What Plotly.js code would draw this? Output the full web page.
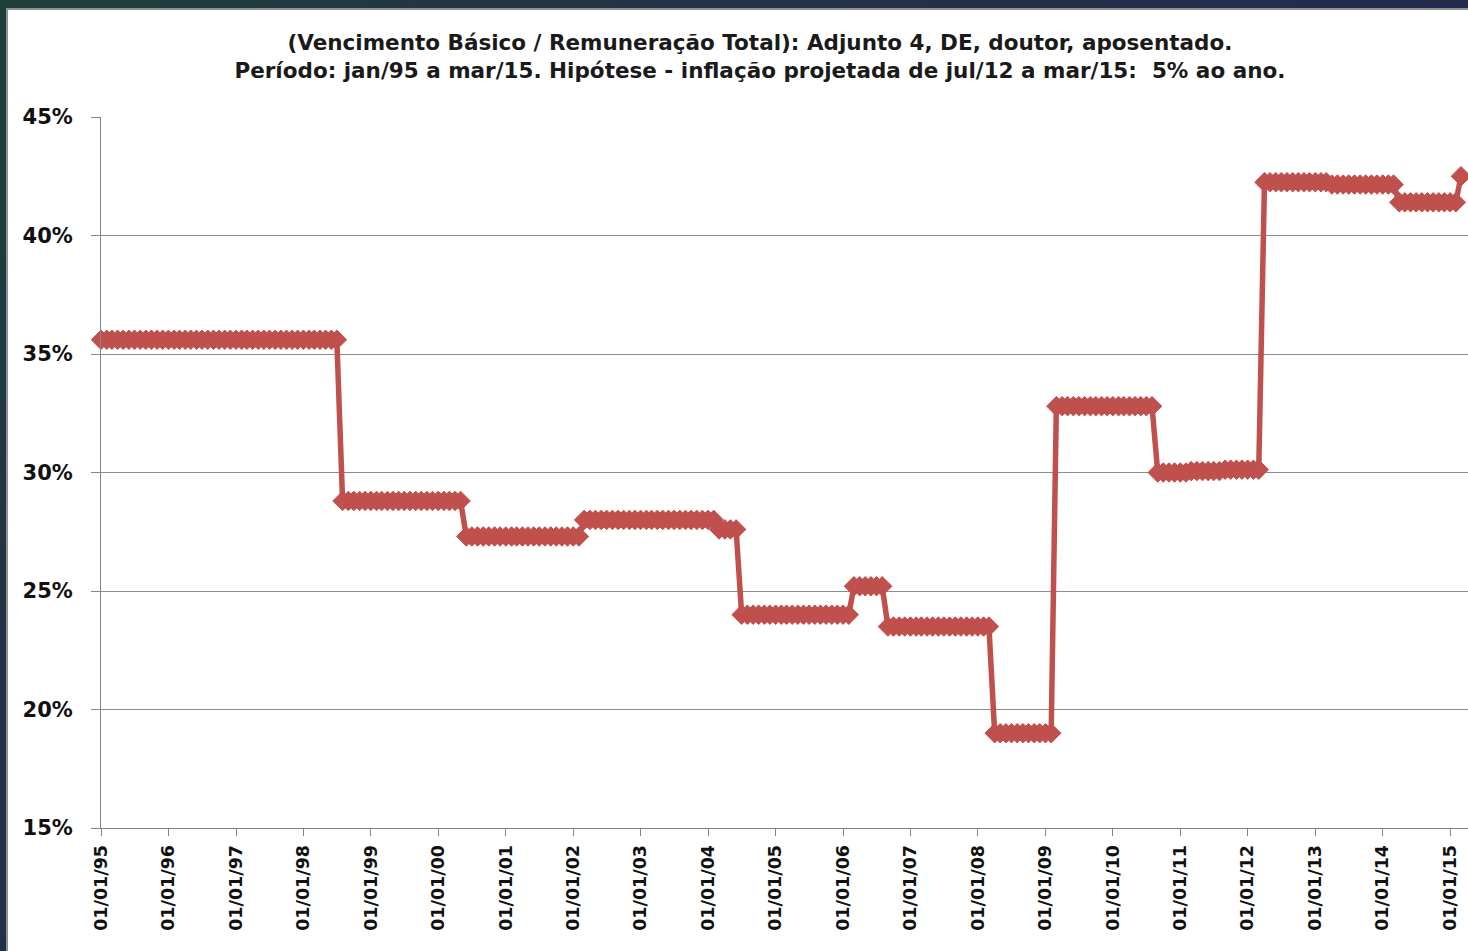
<!DOCTYPE html>
<html><head><meta charset="utf-8">
<script src="https://cdn.plot.ly/plotly-3.0.1.min.js"></script>
<style>
html,body{margin:0;padding:0;width:1468px;height:951px;overflow:hidden;
background:radial-gradient(circle at 0 0,#213f39 0,#233247 700px,#232a4c 1500px);}
#chart{position:absolute;left:8px;top:10px;width:1460px;height:941px;background:#fff;box-shadow:-1px -1px 0 1px #8d9297;}
</style></head><body><div id="chart"></div>
<script>
// Monthly ratio (%), Vencimento Básico / Remuneração Total, one array per year (Jan..Dec)
const y1995 = [35.6,35.6,35.6,35.6,35.6,35.6,35.6,35.6,35.6,35.6,35.6,35.6];
const y1996 = [35.6,35.6,35.6,35.6,35.6,35.6,35.6,35.6,35.6,35.6,35.6,35.6];
const y1997 = [35.6,35.6,35.6,35.6,35.6,35.6,35.6,35.6,35.6,35.6,35.6,35.6];
const y1998 = [35.6,35.6,35.6,35.6,35.6,35.6,35.6,28.8,28.8,28.8,28.8,28.8];
const y1999 = [28.8,28.8,28.8,28.8,28.8,28.8,28.8,28.8,28.8,28.8,28.8,28.8];
const y2000 = [28.8,28.8,28.8,28.8,28.8,27.3,27.3,27.3,27.3,27.3,27.3,27.3];
const y2001 = [27.3,27.3,27.3,27.3,27.3,27.3,27.3,27.3,27.3,27.3,27.3,27.3];
const y2002 = [27.3,27.3,28.0,28.0,28.0,28.0,28.0,28.0,28.0,28.0,28.0,28.0];
const y2003 = [28.0,28.0,28.0,28.0,28.0,28.0,28.0,28.0,28.0,28.0,28.0,28.0];
const y2004 = [28.0,28.0,27.6,27.6,27.6,27.6,24.0,24.0,24.0,24.0,24.0,24.0];
const y2005 = [24.0,24.0,24.0,24.0,24.0,24.0,24.0,24.0,24.0,24.0,24.0,24.0];
const y2006 = [24.0,24.0,25.2,25.2,25.2,25.2,25.2,25.2,23.5,23.5,23.5,23.5];
const y2007 = [23.5,23.5,23.5,23.5,23.5,23.5,23.5,23.5,23.5,23.5,23.5,23.5];
const y2008 = [23.5,23.5,23.5,19.0,19.0,19.0,19.0,19.0,19.0,19.0,19.0,19.0];
const y2009 = [19.0,19.0,32.8,32.8,32.8,32.8,32.8,32.8,32.8,32.8,32.8,32.8];
const y2010 = [32.8,32.8,32.8,32.8,32.8,32.8,32.8,32.8,30.0,30.0,30.0,30.0];
const y2011 = [30.0,30.0,30.06,30.06,30.06,30.06,30.06,30.06,30.12,30.12,30.12,30.12];
const y2012 = [30.12,30.12,30.12,42.25,42.25,42.25,42.25,42.25,42.25,42.25,42.25,42.25];
const y2013 = [42.25,42.25,42.25,42.15,42.15,42.15,42.15,42.15,42.15,42.15,42.15,42.15];
const y2014 = [42.15,42.15,42.15,41.4,41.4,41.4,41.4,41.4,41.4,41.4,41.4,41.4];
const y2015 = [41.4,41.4,42.5];

const years = [1995,1996,1997,1998,1999,2000,2001,2002,2003,2004,2005,2006,2007,2008,2009,2010,2011,2012,2013,2014,2015];
const yearSeries = [y1995,y1996,y1997,y1998,y1999,y2000,y2001,y2002,y2003,y2004,y2005,y2006,y2007,y2008,y2009,y2010,y2011,y2012,y2013,y2014,y2015];

const xTickVals = ["1995-01-01","1996-01-01","1997-01-01","1998-01-01","1999-01-01","2000-01-01","2001-01-01","2002-01-01","2003-01-01","2004-01-01","2005-01-01","2006-01-01","2007-01-01","2008-01-01","2009-01-01","2010-01-01","2011-01-01","2012-01-01","2013-01-01","2014-01-01","2015-01-01"];
const xTickText = ["01/01/95","01/01/96","01/01/97","01/01/98","01/01/99","01/01/00","01/01/01","01/01/02","01/01/03","01/01/04","01/01/05","01/01/06","01/01/07","01/01/08","01/01/09","01/01/10","01/01/11","01/01/12","01/01/13","01/01/14","01/01/15"];
const yTickVals = [15,20,25,30,35,40,45];
const yTickText = ["15%","20%","25%","30%","35%","40%","45%"];

const titleText = "(Vencimento Básico / Remuneração Total): Adjunto 4, DE, doutor, aposentado.<br>Período: jan/95 a mar/15. Hipótese - inflação projetada de jul/12 a mar/15:\u00A0 5% ao ano.";

const dates = [], values = [];
years.forEach((yr, i) => {
  yearSeries[i].forEach((val, m) => {
    dates.push(yr + "-" + String(m + 1).padStart(2, "0") + "-01");
    values.push(val);
  });
});

const red = "#C0504D";
const trace = {
  type: "scatter", mode: "lines+markers", x: dates, y: values,
  line: {color: red, width: 5.5},
  marker: {symbol: "diamond", size: 15, color: red, line: {color: red, width: 1}},
  cliponaxis: false, hoverinfo: "x+y"
};

const layout = {
  width: 1460, height: 941,
  margin: {l: 93, r: 0, t: 107, b: 123, pad: 0},
  paper_bgcolor: "#ffffff", plot_bgcolor: "#ffffff",
  showlegend: false,
  title: {text: titleText, x: 0.515, xref: "container", xanchor: "center", y: 0.957, yref: "container", yanchor: "middle",
          font: {family: "DejaVu Sans", size: 21.5, color: "#1a1a1a", weight: "bold"}},
  xaxis: {type: "date", range: ["1995-01-01", "2015-04-08"], tickvals: xTickVals, ticktext: xTickText,
          tickangle: -90, ticks: "outside", ticklen: 7, tickcolor: "#868686", tickwidth: 1,
          showline: true, linecolor: "#868686", linewidth: 1, showgrid: false, zeroline: false,
          ticklabelstandoff: 2,
          tickfont: {family: "DejaVu Sans", size: 17.5, color: "#111111", weight: "bold"}},
  yaxis: {range: [15, 45], tickvals: yTickVals, ticktext: yTickText,
          ticks: "outside", ticklen: 9, tickcolor: "#868686", tickwidth: 1,
          showline: true, linecolor: "#868686", linewidth: 1,
          showgrid: true, gridcolor: "#8c8c8c", gridwidth: 1, zeroline: false,
          ticklabelstandoff: 14,
          tickfont: {family: "DejaVu Sans", size: 21, color: "#111111", weight: "bold"}}
};

Plotly.newPlot("chart", [trace], layout, {displayModeBar: false, staticPlot: true});
</script></body></html>
